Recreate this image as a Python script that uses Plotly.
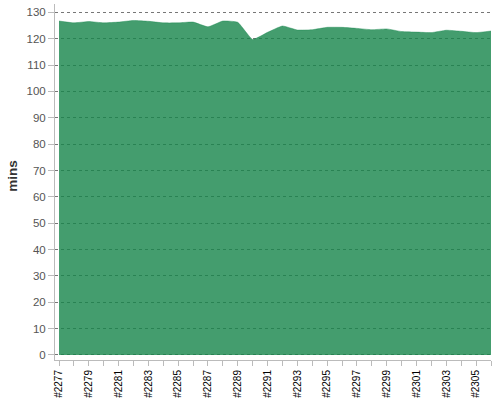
import plotly.graph_objects as go

builds = list(range(2277, 2307))
mins = [126.7, 126.0, 126.5, 126.0, 126.3, 126.9, 126.6, 126.0, 126.0, 126.3,
        124.5, 126.7, 126.2, 119.7, 122.4, 124.8, 123.3, 123.4, 124.3, 124.3,
        123.9, 123.4, 123.7, 122.7, 122.5, 122.3, 123.2, 122.8, 122.3, 122.9]
tick_builds = builds[::2]
tick_labels = ['#%d' % b for b in tick_builds]

fig = go.Figure()
fig.add_trace(go.Scatter(
    x=builds, y=mins,
    mode='lines',
    line=dict(color='rgba(21,132,74,0.8)', width=0.5, shape='spline', smoothing=0.4),
    fill='tozeroy',
    fillcolor='rgba(21,132,74,0.8)',
    hoverinfo='skip'
))

fig.update_layout(
    width=500, height=400,
    margin=dict(l=55, r=9, t=4, b=40),
    paper_bgcolor='white', plot_bgcolor='white',
    showlegend=False,
    font=dict(family='Liberation Sans, Arial', color='#444'),
    xaxis=dict(
        range=[2276.73, 2306],
        tickvals=tick_builds, ticktext=tick_labels,
        tickangle=-90,
        tickfont=dict(size=10, color='black'),
        ticks='outside', ticklen=5, tickcolor='#bbb',
        minor=dict(dtick=1, tick0=2277, ticks='outside', ticklen=5, tickcolor='#bbb'),
        showline=True, linecolor='#bbb', linewidth=1,
        showgrid=False, zeroline=False, automargin=False,
    ),
    yaxis=dict(
        range=[-1.9, 133.15],
        tickvals=list(range(0, 131, 10)),
        tickfont=dict(size=11.5, color='#555'),
        ticks='outside', ticklen=6, tickcolor='#bbb',
        showline=True, linecolor='#bbb', linewidth=1,
        showgrid=True, gridcolor='#777', griddash='dot', gridwidth=1,
        zeroline=False, automargin=False,
    ),
    annotations=[dict(
        text='<b>mins</b>', textangle=-90,
        xref='paper', yref='paper', x=-0.0965, y=0.517,
        xanchor='center', yanchor='middle', showarrow=False,
        font=dict(size=13.5, color='#333'),
    )],
)

# the page body has a default 8px margin; drop it so the figure sits at 0,0
fig.write_html('out.html', config={'displayModeBar': False},
               post_script="document.body.style.margin='0';")
